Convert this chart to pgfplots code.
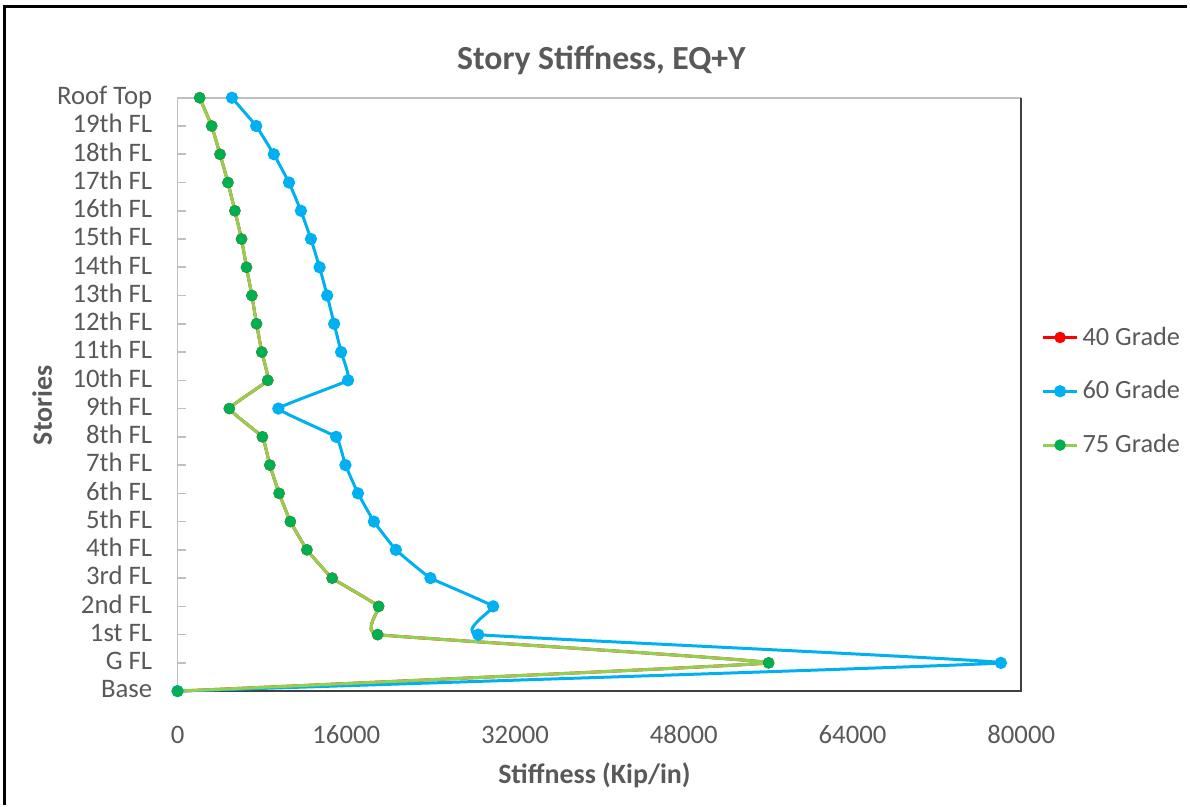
\documentclass[border=0pt]{standalone}
\usepackage{pgfplots}
\pgfplotsset{compat=1.18}
\usepackage{fontspec}
\setmainfont{Carlito}
\definecolor{txt}{HTML}{595959}
\definecolor{blu}{HTML}{00B0F0}
\definecolor{grl}{HTML}{92D050}
\definecolor{grm}{HTML}{00B050}
\definecolor{axg}{HTML}{BFBFBF}
\definecolor{dk}{HTML}{404040}
\definecolor{rd}{HTML}{FF0000}

\begin{document}
\begin{tikzpicture}
\path (0,0) rectangle (595pt,403.5pt);
\draw[line width=1.6pt] (1.5pt,400.25pt) -- (595pt,400.25pt);
\draw[line width=1.6pt] (2.25pt,401pt) -- (2.25pt,0);
\node[font=\fontsize{16.9}{20}\selectfont\bfseries, text=txt, anchor=base] at (301.5pt,368.5pt) {Story Stiffness, EQ+Y};
\node[font=\fontsize{14}{17}\selectfont\bfseries, text=txt, anchor=base] at (298pt,10.5pt) {Stiffness (Kip/in)};
\node[font=\fontsize{14}{17}\selectfont\bfseries, text=txt, anchor=base, rotate=90] at (26pt,200.25pt) {Stories};
\begin{axis}[
 at={(89pt,57pt)}, anchor=south west,
 scale only axis, width=423pt, height=297.5pt,
 xmin=0, xmax=80000, ymin=0, ymax=21,
 clip=false,
 axis line style={draw=none},
 scaled x ticks=false,
 xtick={0,16000,32000,48000,64000,80000},
 xticklabels={0,16000,32000,48000,64000,80000},
 xticklabel style={anchor=base, yshift=-26.5pt, inner sep=0pt, font=\fontsize{13.4}{16}\selectfont, text=txt},
 x tick style={draw=none},
 ytick={0,...,21},
 yticklabels={Base, G FL, 1st FL, 2nd FL, 3rd FL, 4th FL, 5th FL, 6th FL, 7th FL, 8th FL, 9th FL, 10th FL, 11th FL, 12th FL, 13th FL, 14th FL, 15th FL, 16th FL, 17th FL, 18th FL, 19th FL, Roof Top},
 yticklabel style={anchor=base east, xshift=-12.5pt, yshift=-3.4pt, inner sep=0pt, font=\fontsize{13.4}{16}\selectfont, text=txt},
 ytick pos=left, xtick pos=bottom,
 tick align=inside, major tick length=4pt,
 y tick style={axg, line width=0.8pt},
 legend style={at={(1.0165,0.628)}, anchor=north west, draw=none, fill=none, font=\fontsize{13.2}{16}\selectfont, text=txt, row sep=12.3pt},
 legend cell align=left,
]
\draw[axg, line width=0.9pt] (rel axis cs:0,0) -- (rel axis cs:0,1) -- (rel axis cs:1,1);
\draw[dk, line width=1.1pt] (rel axis cs:1,1) -- (rel axis cs:1,0) -- (rel axis cs:0,0);
\addplot[rd, line width=1.5pt, smooth, tension=0.15, mark=*, mark size=2.1pt, mark options={fill=rd, draw=rd}] coordinates {
(0,0) (56050,1) (18970,2) (19070,3) (14660,4) (12270,5) (10700,6) (9630,7) (8750,8) (8050,9) (4910,10) (8560,11) (7990,12) (7490,13) (7050,14) (6540,15) (6070,16) (5440,17) (4780,18) (4030,19) (3240,20) (2100,21)};
\addlegendentry{40 Grade}
\addplot[blu, line width=1.5pt, smooth, tension=0.15, mark=*, mark size=2.3pt, mark options={fill=blu, draw=blu}] coordinates {
(0,0) (78070,1) (28510,2) (29925,3) (23980,4) (20700,5) (18620,6) (17110,7) (15920,8) (15040,9) (9560,10) (16170,11) (15510,12) (14850,13) (14190,14) (13470,15) (12650,16) (11700,17) (10570,18) (9130,19) (7460,20) (5160,21)};
\addlegendentry{60 Grade}
\addplot[grl, line width=1.5pt, smooth, tension=0.15, mark=*, mark size=2.1pt, mark options={fill=grm, draw=grm}] coordinates {
(0,0) (56050,1) (18970,2) (19070,3) (14660,4) (12270,5) (10700,6) (9630,7) (8750,8) (8050,9) (4910,10) (8560,11) (7990,12) (7490,13) (7050,14) (6540,15) (6070,16) (5440,17) (4780,18) (4030,19) (3240,20) (2100,21)};
\addlegendentry{75 Grade}
\end{axis}
\end{tikzpicture}
\end{document}
